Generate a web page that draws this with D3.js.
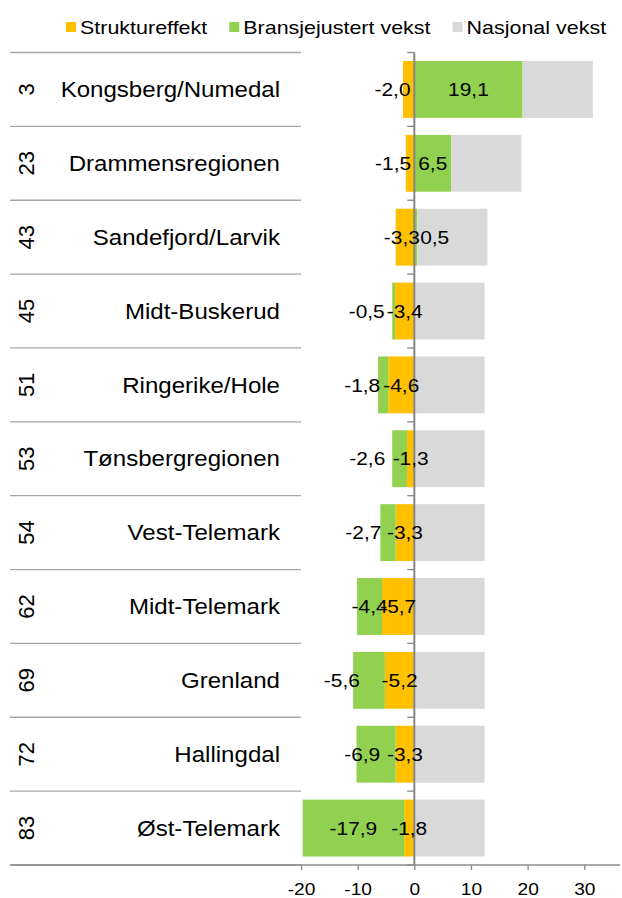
<!DOCTYPE html>
<html>
<head>
<meta charset="utf-8">
<script src="https://cdn.jsdelivr.net/npm/d3@7"></script>
<style>
    body { margin: 0; background: #fff; }
    text { font-family: "Liberation Sans", Arial, sans-serif; fill: #000; }
</style>
</head>
<body>
<div id="chart"></div>
<script>
// DATA
var regions = ["Kongsberg/Numedal", "Drammensregionen", "Sandefjord/Larvik", "Midt-Buskerud",
    "Ringerike/Hole", "Tønsbergregionen", "Vest-Telemark", "Midt-Telemark", "Grenland",
    "Hallingdal", "Øst-Telemark"];
var ranks = [3, 23, 43, 45, 51, 53, 54, 62, 69, 72, 83];
var struktur = [-2.0, -1.5, -3.3, -3.4, -4.6, -1.3, -3.3, -5.7, -5.2, -3.3, -1.8];
var bransje = [19.1, 6.5, 0.5, -0.5, -1.8, -2.6, -2.7, -4.4, -5.6, -6.9, -17.9];
var nasjonal = [12.4, 12.4, 12.4, 12.4, 12.4, 12.4, 12.4, 12.4, 12.4, 12.4, 12.4];
var xTicks = [-20, -10, 0, 10, 20, 30];

var seriesKeys = ["struktur", "bransje", "nasjonal"];
var seriesNames = ["Struktureffekt", "Bransjejustert vekst", "Nasjonal vekst"];
var seriesColors = ["#FFC000", "#92D050", "#D9D9D9"];

// labels that were moved off the middle of their piece (axis units, null = centred)
var strukturLabelAt = [-3.85, -3.75, -2.2, null, null, null, null, null, null, null, null];
var bransjeLabelAt = [null, null, 3.6, -8.4, -9.2, -8.3, -9.0, null, -12.8, -9.2, null];

// HELPERS
var no = d3.formatLocale({
    decimal: ",",
    thousands: " ",
    grouping: [3],
    currency: ["", " kr"],
    minus: "-"
});
var fmt1 = no.format(".1f"),
    fmt0 = no.format("d");

// the original text is set a bit wide
var WIDE = "scale(1.13,1)";

function buildRows() {
    var res = [];
    regions.forEach((r, i) => {
        res.push({
            region: r,
            rank: ranks[i],
            struktur: struktur[i],
            bransje: bransje[i],
            nasjonal: nasjonal[i]
        });
    });
    return res;
}

function draw() {
    var width = 622,
        height = 898;
    var rows = buildRows();

    var svg = d3.select("#chart")
        .append("svg")
        .attr("width", width)
        .attr("height", height);

    var xScale = d3.scaleLinear()
        .domain([-20, 30])
        .range([301, 584.3]);

    var yScale = d3.scaleBand()
        .domain(regions)
        .range([52.5, 865])
        .paddingInner(0.23)
        .paddingOuter(0.115);

    var step = yScale.step();
    var top = yScale.range()[0];
    var bounds = d3.range(regions.length + 1).map(i => top + i * step);
    var rowMid = r => yScale(r) + yScale.bandwidth() / 2;

    // Legend
    var legend = svg.append("g").attr("class", "legend");
    var lx = 66;
    seriesNames.forEach((name, i) => {
        legend.append("rect")
            .attr("x", lx)
            .attr("y", 22)
            .attr("width", 10)
            .attr("height", 10)
            .attr("fill", seriesColors[i]);
        var t = legend.append("text")
            .attr("transform", "translate(" + (lx + 14) + ",34)" + WIDE)
            .style("font-size", "19px")
            .text(name);
        lx += 14 + t.node().getComputedTextLength() * 1.13 + 22;
    });

    // Category dividers (left table)
    svg.append("g")
        .selectAll("line")
        .data(bounds)
        .enter()
        .append("line")
        .attr("x1", 10)
        .attr("x2", 301)
        .attr("y1", d => d)
        .attr("y2", d => d)
        .attr("stroke", "#a6a6a6")
        .attr("stroke-width", 1.3);

    // Rank numbers, rotated
    svg.append("g")
        .selectAll("text")
        .data(rows)
        .enter()
        .append("text")
        .attr("transform", d => "translate(34," + rowMid(d.region) + ")rotate(-90)")
        .attr("text-anchor", "middle")
        .style("font-size", "22px")
        .text(d => d.rank);

    // Region names
    svg.append("g")
        .selectAll("text")
        .data(rows)
        .enter()
        .append("text")
        .attr("transform", d => "translate(280," + rowMid(d.region) + ")" + WIDE)
        .attr("dy", "0.36em")
        .attr("text-anchor", "end")
        .style("font-size", "21.3px")
        .text(d => d.region);

    // Stacked bars
    var stacked = d3.stack()
        .keys(seriesKeys)
        .offset(d3.stackOffsetDiverging)(rows);

    svg.append("g")
        .selectAll("g")
        .data(stacked)
        .enter()
        .append("g")
        .attr("fill", (d, i) => seriesColors[i])
        .selectAll("rect")
        .data(d => d)
        .enter()
        .append("rect")
        .attr("x", d => xScale(d[0]))
        .attr("width", d => xScale(d[1]) - xScale(d[0]))
        .attr("y", d => yScale(d.data.region))
        .attr("height", yScale.bandwidth());

    // X axis
    var xAxis = svg.append("g")
        .attr("transform", "translate(0," + bounds[bounds.length - 1] + ")")
        .call(d3.axisBottom(xScale)
            .tickValues(xTicks)
            .tickSize(5)
            .tickPadding(13)
            .tickFormat(fmt0));
    xAxis.select(".domain").remove();
    xAxis.selectAll(".tick line").attr("stroke", "#868686").attr("stroke-width", 1.3);
    xAxis.selectAll(".tick text")
        .attr("transform", WIDE)
        .style("font-size", "17px")
        .attr("fill", "#000");
    xAxis.append("line")
        .attr("x1", 10)
        .attr("x2", 620)
        .attr("stroke", "#8c8c8c")
        .attr("stroke-width", 1.5);

    // Zero axis with small ticks at row boundaries
    var x0 = xScale(0);
    svg.append("line")
        .attr("x1", x0)
        .attr("x2", x0)
        .attr("y1", bounds[0])
        .attr("y2", bounds[bounds.length - 1])
        .attr("stroke", "#868686")
        .attr("stroke-width", 2);
    svg.append("g")
        .selectAll("line")
        .data(bounds)
        .enter()
        .append("line")
        .attr("x1", x0 - 7)
        .attr("x2", x0)
        .attr("y1", d => d)
        .attr("y2", d => d)
        .attr("stroke", "#868686")
        .attr("stroke-width", 1.3);

    // Data labels (struktur and bransje only)
    [0, 1].forEach(k => {
        var moved = k === 0 ? strukturLabelAt : bransjeLabelAt;
        svg.append("g")
            .selectAll("text")
            .data(stacked[k])
            .enter()
            .append("text")
            .attr("transform", (d, i) => {
                var cx = xScale(moved[i] !== null ? moved[i] : (d[0] + d[1]) / 2);
                return "translate(" + cx + "," + rowMid(d.data.region) + ")" + WIDE;
            })
            .attr("dy", "0.36em")
            .attr("text-anchor", "middle")
            .style("font-size", "18.5px")
            .text(d => fmt1(d.data[seriesKeys[k]]));
    });
}

draw();
</script>
</body>
</html>
